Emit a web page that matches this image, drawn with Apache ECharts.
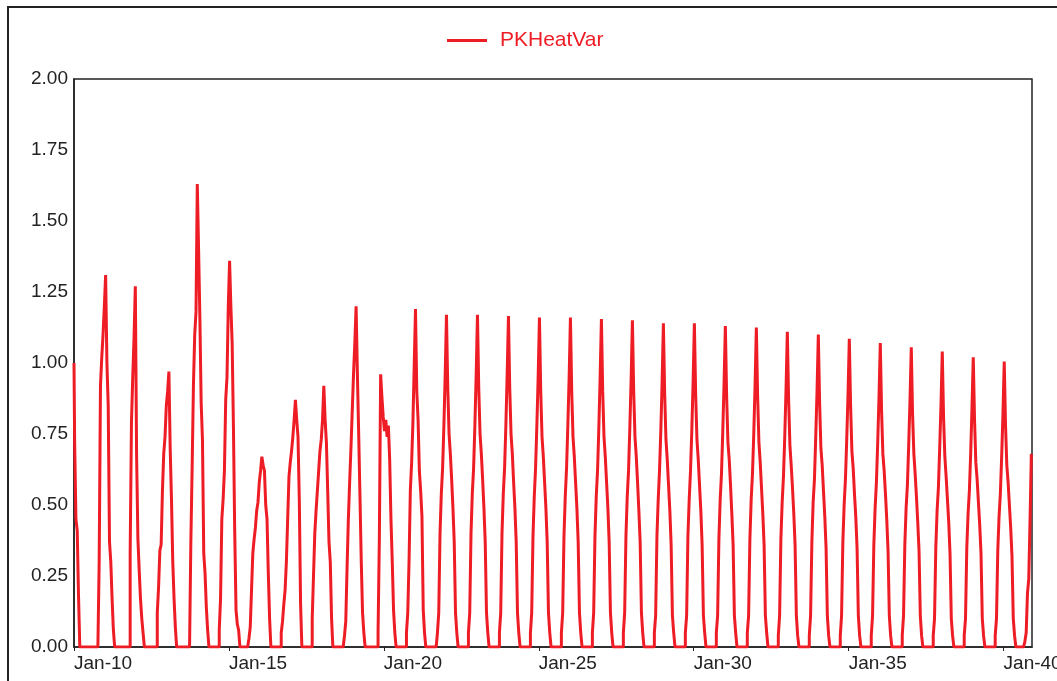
<!DOCTYPE html>
<html>
<head>
<meta charset="utf-8">
<script src="https://cdn.jsdelivr.net/npm/echarts@6/dist/echarts.min.js"></script>
<style>
  html, body { margin: 0; padding: 0; background: #ffffff; }
  #chart { width: 1057px; height: 681px; }
</style>
</head>
<body>
<div id="chart"></div>
<script>
// PKHeatVar, hourly, hour 0 = Jan-10 00:00
const seriesName = 'PKHeatVar';
const lastHour = 742;

// x-axis tick labels, one every 5 days (120 h)
const dayLabels = ['Jan-10', 'Jan-15', 'Jan-20', 'Jan-25', 'Jan-30', 'Jan-35', 'Jan-40'];
const yTicks = [0, 0.25, 0.5, 0.75, 1, 1.25, 1.5, 1.75, 2];

// first hour of each daily heating pulse
const pulseStartHour = [
  0, 19, 43, 64, 90, 112, 135, 160, 184, 209, 235, 257,
  282, 306, 330, 354, 378, 402, 426, 450, 474, 498, 522, 546,
  570, 594, 618, 642, 666, 690, 714, 737
];

// hourly values of each pulse, from its start hour
const pulseHourly = [
  [1.00, 0.72, 0.45, 0.41, 0.18, 0],
  [0, 0.30, 0.92, 1.02, 1.10, 1.20, 1.31, 1.00, 0.85, 0.37, 0.30, 0.17, 0.06, 0],
  [0, 0.33, 0.79, 0.95, 1.09, 1.27, 0.67, 0.38, 0.27, 0.17, 0.10, 0.05, 0],
  [0, 0.12, 0.21, 0.34, 0.36, 0.55, 0.68, 0.74, 0.85, 0.90, 0.97, 0.70, 0.52, 0.30, 0.17, 0.07, 0],
  [0, 0.37, 0.63, 0.92, 1.10, 1.18, 1.63, 1.40, 1.16, 0.86, 0.73, 0.33, 0.26, 0.14, 0.06, 0],
  [0, 0.06, 0.17, 0.45, 0.52, 0.62, 0.87, 0.95, 1.20, 1.36, 1.20, 1.07, 0.77, 0.40, 0.13, 0.08, 0.06, 0],
  [0, 0.03, 0.07, 0.20, 0.33, 0.38, 0.42, 0.48, 0.51, 0.58, 0.62, 0.67, 0.64, 0.62, 0.50, 0.45, 0.26, 0.10, 0],
  [0, 0.05, 0.09, 0.15, 0.20, 0.30, 0.45, 0.60, 0.65, 0.69, 0.74, 0.80, 0.87, 0.80, 0.74, 0.52, 0.15, 0],
  [0, 0.10, 0.25, 0.40, 0.48, 0.55, 0.62, 0.69, 0.73, 0.80, 0.92, 0.80, 0.72, 0.55, 0.37, 0.30, 0.10, 0],
  [0, 0.04, 0.09, 0.28, 0.45, 0.58, 0.70, 0.83, 0.96, 1.07, 1.20, 0.96, 0.75, 0.53, 0.30, 0.12, 0.05, 0],
  [0, 0.05, 0.38, 0.96, 0.88, 0.81, 0.76, 0.80, 0.74, 0.78, 0.66, 0.45, 0.30, 0.13, 0.05, 0],
  [0, 0.05, 0.12, 0.30, 0.55, 0.65, 0.79, 0.99, 1.19, 0.90, 0.80, 0.62, 0.55, 0.46, 0.13, 0.05, 0],
  [0.05, 0.12, 0.40, 0.54, 0.63, 0.78, 0.96, 1.17, 0.91, 0.75, 0.68, 0.59, 0.49, 0.37, 0.12, 0.05, 0],
  [0.05, 0.12, 0.40, 0.54, 0.63, 0.78, 0.96, 1.17, 0.91, 0.75, 0.68, 0.59, 0.49, 0.37, 0.12, 0.05, 0],
  [0.05, 0.12, 0.40, 0.54, 0.63, 0.78, 0.96, 1.165, 0.91, 0.75, 0.68, 0.58, 0.49, 0.37, 0.12, 0.05, 0],
  [0.05, 0.12, 0.39, 0.53, 0.63, 0.78, 0.95, 1.16, 0.90, 0.74, 0.67, 0.58, 0.49, 0.37, 0.12, 0.05, 0],
  [0.05, 0.12, 0.39, 0.53, 0.63, 0.78, 0.95, 1.16, 0.90, 0.74, 0.67, 0.58, 0.49, 0.37, 0.12, 0.05, 0],
  [0.05, 0.12, 0.39, 0.53, 0.62, 0.77, 0.95, 1.155, 0.90, 0.74, 0.67, 0.58, 0.49, 0.37, 0.12, 0.05, 0],
  [0.05, 0.12, 0.39, 0.53, 0.62, 0.77, 0.94, 1.15, 0.90, 0.74, 0.67, 0.58, 0.48, 0.37, 0.12, 0.05, 0],
  [0.05, 0.11, 0.39, 0.52, 0.62, 0.76, 0.93, 1.14, 0.89, 0.73, 0.66, 0.57, 0.48, 0.36, 0.11, 0.05, 0],
  [0.05, 0.11, 0.39, 0.52, 0.62, 0.76, 0.93, 1.14, 0.89, 0.73, 0.66, 0.57, 0.48, 0.36, 0.11, 0.05, 0],
  [0.05, 0.11, 0.38, 0.52, 0.61, 0.76, 0.93, 1.13, 0.88, 0.72, 0.66, 0.57, 0.47, 0.36, 0.11, 0.05, 0],
  [0.05, 0.11, 0.38, 0.52, 0.61, 0.75, 0.92, 1.125, 0.88, 0.72, 0.65, 0.56, 0.47, 0.36, 0.11, 0.05, 0],
  [0.04, 0.11, 0.38, 0.51, 0.60, 0.74, 0.91, 1.11, 0.87, 0.71, 0.64, 0.56, 0.47, 0.36, 0.11, 0.04, 0],
  [0.04, 0.11, 0.37, 0.51, 0.59, 0.74, 0.90, 1.10, 0.86, 0.70, 0.64, 0.55, 0.46, 0.35, 0.11, 0.04, 0],
  [0.04, 0.11, 0.37, 0.50, 0.59, 0.73, 0.89, 1.085, 0.85, 0.69, 0.63, 0.54, 0.46, 0.35, 0.11, 0.04, 0],
  [0.04, 0.11, 0.36, 0.49, 0.58, 0.72, 0.88, 1.07, 0.83, 0.68, 0.62, 0.54, 0.45, 0.34, 0.11, 0.04, 0],
  [0.04, 0.11, 0.36, 0.49, 0.57, 0.71, 0.87, 1.055, 0.82, 0.68, 0.61, 0.53, 0.44, 0.34, 0.11, 0.04, 0],
  [0.04, 0.10, 0.35, 0.48, 0.56, 0.70, 0.85, 1.04, 0.81, 0.67, 0.60, 0.52, 0.44, 0.33, 0.10, 0.04, 0],
  [0.04, 0.10, 0.35, 0.47, 0.55, 0.68, 0.84, 1.02, 0.80, 0.65, 0.59, 0.51, 0.43, 0.33, 0.10, 0.04, 0],
  [0.04, 0.10, 0.34, 0.46, 0.54, 0.67, 0.82, 1.005, 0.78, 0.64, 0.58, 0.50, 0.42, 0.32, 0.10, 0.04, 0],
  [0.02, 0.05, 0.19, 0.24, 0.45, 0.68]
];

// hourly table: zero outside the pulses
const hourly = [];
for (let h = 0; h <= lastHour; h++) hourly.push([h, 0]);
pulseStartHour.forEach((start, i) => {
  pulseHourly[i].forEach((v, k) => {
    const h = start + k;
    if (h <= lastHour) hourly[h][1] = v;
  });
});

const red = '#ee1c24';
const textFont = 'Liberation Sans, Arial, sans-serif';

const chart = echarts.init(document.getElementById('chart'), null, { renderer: 'canvas' });
chart.setOption({
  animation: false,
  backgroundColor: '#ffffff',
  graphic: [{
    type: 'rect',
    shape: { x: 8, y: 7, width: 1100, height: 720 },
    style: { fill: 'none', stroke: '#222222', lineWidth: 2 },
    silent: true
  }],
  legend: {
    data: [{ name: seriesName, icon: 'rect' }],
    top: 30,
    left: 447,
    padding: 0,
    itemWidth: 40,
    itemHeight: 3,
    textStyle: { color: red, fontSize: 21, fontFamily: textFont, padding: [0, 0, 0, 8] }
  },
  grid: {
    left: 74, right: 25, top: 79, bottom: 34,
    show: true, borderColor: '#222222', borderWidth: 1.5,
    containLabel: false,
    outerBoundsMode: 'none'
  },
  xAxis: {
    type: 'value',
    min: 0,
    max: lastHour,
    interval: 120,
    splitLine: { show: false },
    axisLine: { show: true, lineStyle: { color: '#222222', width: 1.5 } },
    axisTick: { show: true, length: 4, lineStyle: { color: '#222222' } },
    axisLabel: {
      show: true,
      align: 'left',
      margin: 7,
      color: '#222222',
      fontSize: 19,
      fontFamily: textFont,
      showMaxLabel: false,
      formatter: v => dayLabels[Math.round(v / 120)] || ''
    }
  },
  yAxis: {
    type: 'value',
    min: yTicks[0],
    max: yTicks[yTicks.length - 1],
    interval: 0.25,
    splitLine: { show: false },
    axisLine: { show: true, lineStyle: { color: '#222222', width: 1.5 } },
    axisTick: { show: false },
    axisLabel: {
      margin: 6,
      color: '#222222',
      fontSize: 19,
      fontFamily: textFont,
      formatter: v => v.toFixed(2)
    }
  },
  series: [{
    name: seriesName,
    type: 'line',
    data: hourly,
    step: 'middle',
    symbol: 'none',
    showSymbol: false,
    color: red,
    lineStyle: { color: red, width: 3 },
    clip: true
  }]
});
</script>
</body>
</html>
